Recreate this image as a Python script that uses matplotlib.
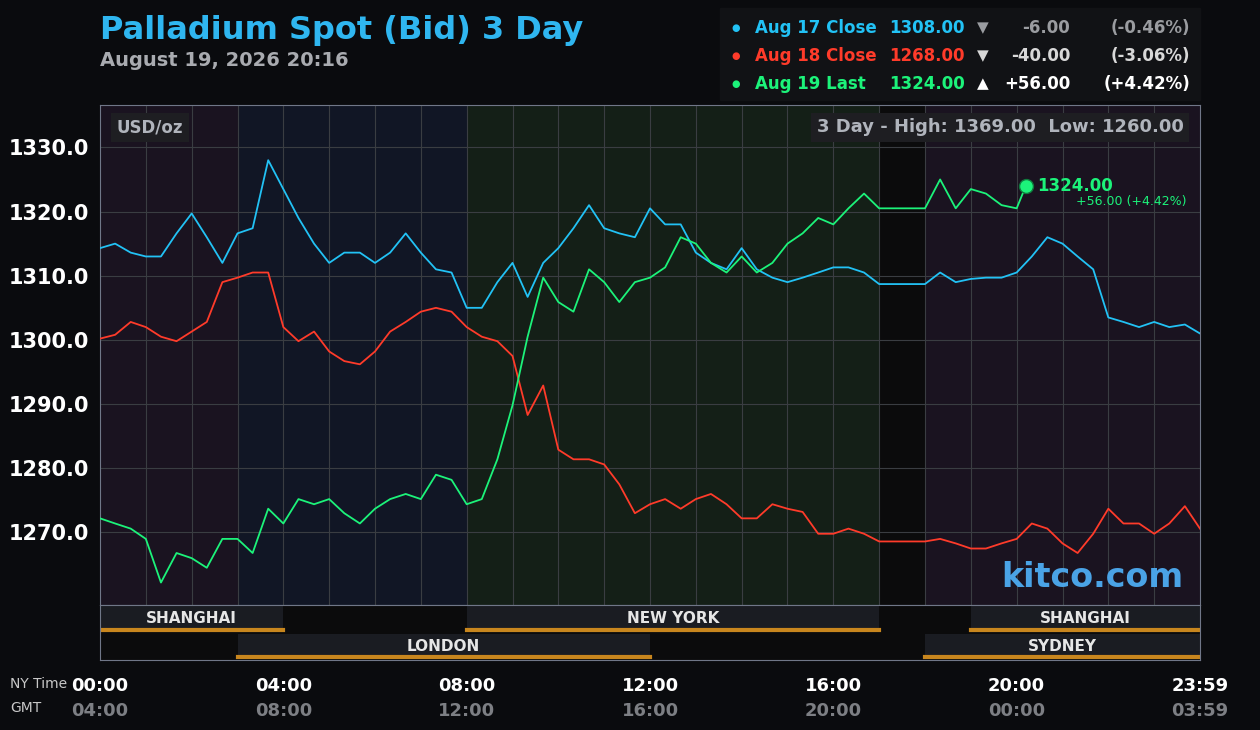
import matplotlib
matplotlib.use("Agg")
import matplotlib.pyplot as plt
import numpy as np

hours = [0,0.33,0.67,1,1.33,1.67,2,2.33,2.67,3,3.33,3.67,4,4.33,4.67,5,5.33,5.67,6,6.33,6.67,7,7.33,7.67,8,8.33,8.67,9,9.33,9.67,10,10.33,10.67,11,11.33,11.67,12,12.33,12.67,13,13.33,13.67,14,14.33,14.67,15,15.33,15.67,16,16.33,16.67,17,18,18.33,18.67,19,19.33,19.67,20,20.33,20.67,21,21.33,21.67,22,22.33,22.67,23,23.33,23.67,24]
aug17 = [1314.3,1315,1313.6,1313,1313,1316.6,1319.7,1316,1312,1316.6,1317.4,1328,1323.5,1319,1315,1312,1313.6,1313.6,1312,1313.6,1316.6,1313.6,1311,1310.5,1305,1305,1309,1312,1306.7,1312,1314.3,1317.4,1321,1317.4,1316.6,1316,1320.5,1318,1318,1313.6,1312,1311,1314.3,1311,1309.7,1309,1309.7,1310.5,1311.3,1311.3,1310.5,1308.7,1308.7,1310.5,1309,1309.5,1309.7,1309.7,1310.5,1313,1316,1315,1313,1311,1303.5,1302.8,1302,1302.8,1302,1302.4,1301]
aug18 = [1300.2,1300.8,1302.8,1302,1300.5,1299.8,1301.3,1302.8,1309,1309.7,1310.5,1310.5,1302,1299.8,1301.3,1298.2,1296.7,1296.2,1298.2,1301.3,1302.8,1304.4,1305,1304.4,1302,1300.5,1299.8,1297.5,1288.3,1292.9,1282.9,1281.4,1281.4,1280.6,1277.5,1273,1274.4,1275.2,1273.7,1275.2,1276,1274.4,1272.2,1272.2,1274.4,1273.7,1273.2,1269.8,1269.8,1270.6,1269.8,1268.6,1268.6,1269,1268.3,1267.5,1267.5,1268.3,1269,1271.4,1270.6,1268.3,1266.8,1269.8,1273.7,1271.4,1271.4,1269.8,1271.4,1274.1,1270.6]
hours19 = [0,0.33,0.67,1,1.33,1.67,2,2.33,2.67,3,3.33,3.67,4,4.33,4.67,5,5.33,5.67,6,6.33,6.67,7,7.33,7.67,8,8.33,8.67,9,9.33,9.67,10,10.33,10.67,11,11.33,11.67,12,12.33,12.67,13,13.33,13.67,14,14.33,14.67,15,15.33,15.67,16,16.33,16.67,17,18,18.33,18.67,19,19.33,19.67,20,20.2]
aug19 = [1272.2,1271.4,1270.6,1269,1262.2,1266.8,1266,1264.5,1269,1269,1266.8,1273.7,1271.4,1275.2,1274.4,1275.2,1273,1271.4,1273.7,1275.2,1276,1275.2,1279,1278.2,1274.4,1275.2,1281.4,1289.8,1300.5,1309.7,1305.9,1304.4,1311,1309,1305.9,1309,1309.7,1311.3,1316,1315,1312,1310.5,1313,1310.5,1312,1315,1316.6,1319,1318,1320.5,1322.8,1320.5,1320.5,1325,1320.5,1323.5,1322.8,1321,1320.5,1324]
yticks = [1270,1280,1290,1300,1310,1320,1330]
xlabels_ny = ["00:00","04:00","08:00","12:00","16:00","20:00","23:59"]
xlabels_gmt = ["04:00","08:00","12:00","16:00","20:00","00:00","03:59"]
xtick_pos = [0,4,8,12,16,20,24]

BLUE, RED, GREEN = "#22c2f5", "#ff3b2a", "#1cf37a"
fig = plt.figure(figsize=(12.6,7.3), dpi=100, facecolor="#0a0b0e")
ax = fig.add_axes([100/1260, 125/730, 1100/1260, 500/730])
ax.set_facecolor("#0b0b0c")
ax.set_xlim(0,24); ax.set_ylim(1258.7,1336.6)
for a,b,c in [(0,3,"#1a1320"),(3,8,"#111625"),(8,17,"#141f17"),(17,18,"#0b0b0c"),(18,24,"#1a1320")]:
    ax.axvspan(a,b,color=c,zorder=0,lw=0)
for x in np.arange(1,24):
    ax.axvline(x,color="#3a3d42",lw=0.8,zorder=1)
for y in yticks:
    ax.axhline(y,color="#3a3d42",lw=0.8,zorder=1)
ax.plot(hours,aug17,color=BLUE,lw=1.3,zorder=3)
ax.plot(hours,aug18,color=RED,lw=1.3,zorder=3)
ax.plot(hours19,aug19,color=GREEN,lw=1.3,zorder=4)
ax.plot([hours19[-1]],[aug19[-1]],'o',color=GREEN,ms=10,zorder=5,mec="#0f7a3d")
ax.text(20.45,1324,"1324.00",color=GREEN,fontsize=12,fontweight="bold",va="center",zorder=6)
ax.text(23.7,1321.6,"+56.00 (+4.42%)",color=GREEN,fontsize=9,ha="right",va="center",zorder=6)
ax.set_yticks(yticks); ax.set_yticklabels([f"{v:.1f}" for v in yticks])
ax.tick_params(axis="y",colors="white",labelsize=15,length=0,pad=8)
for l in ax.get_yticklabels(): l.set_fontweight("bold")
ax.set_xticks([])
for s in ax.spines.values(): s.set_color("#707788")
ax.text(0.015,0.955,"USD/oz",transform=ax.transAxes,color="#b0b4bc",fontsize=12,fontweight="bold",va="center",
        bbox=dict(fc="#1e1e22",ec="none",pad=4))
ax.text(0.985,0.955,"3 Day - High: 1369.00  Low: 1260.00",transform=ax.transAxes,color="#b0b4bc",fontsize=13,
        fontweight="bold",va="center",ha="right",bbox=dict(fc="#1e1e22",ec="none",pad=4))
ax.text(0.985,0.055,"kitco.com",transform=ax.transAxes,color="#4aa3e6",fontsize=24,fontweight="bold",ha="right",va="center")

sx = fig.add_axes([100/1260, 70/730, 1100/1260, 55/730])
sx.set_facecolor("#0b0b0c"); sx.set_xlim(0,24); sx.set_ylim(0,2)
sx.set_xticks([]); sx.set_yticks([])
for s in sx.spines.values(): s.set_color("#707788")
for a,b,name,row in [(0,4,"SHANGHAI",1),(8,17,"NEW YORK",1),(19,24,"SHANGHAI",1),(3,12,"LONDON",0),(18,24,"SYDNEY",0)]:
    sx.add_patch(plt.Rectangle((a,row+0.05),b-a,0.9,color="#1a1c22",lw=0))
    sx.plot([a,b],[row+0.1,row+0.1],color="#c8861e",lw=3)
    sx.text((a+b)/2,row+0.5,name,color="#e6e6e6",fontsize=11,fontweight="bold",ha="center",va="center")

for x,l1,l2 in zip(xtick_pos,xlabels_ny,xlabels_gmt):
    px = (100+x/24*1100)/1260
    fig.text(px,1-686/730,l1,color="white",fontsize=13,fontweight="bold",ha="center",va="center")
    fig.text(px,1-711/730,l2,color="#7d7f84",fontsize=13,fontweight="bold",ha="center",va="center")
fig.text(10/1260,1-684/730,"NY Time",color="#c8c8c8",fontsize=10,va="center")
fig.text(10/1260,1-708/730,"GMT",color="#c8c8c8",fontsize=10,va="center")

fig.text(100/1260,1-30/730,"Palladium Spot (Bid) 3 Day",color="#2fb6f0",fontsize=23,fontweight="bold",va="center")
fig.text(100/1260,1-60/730,"August 19, 2026 20:16",color="#a9abb0",fontsize=14,fontweight="bold",va="center")
fig.patches.append(plt.Rectangle((720/1260,1-100/730),480/1260,92/730,transform=fig.transFigure,color="#111215",zorder=0))
rows = [("Aug 17 Close","1308.00","\u25bc","-6.00","(-0.46%)",BLUE,"#9a9ca0"),
        ("Aug 18 Close","1268.00","\u25bc","-40.00","(-3.06%)",RED,"#d8d8d8"),
        ("Aug 19 Last","1324.00","\u25b2","+56.00","(+4.42%)",GREEN,"white")]
for i,(lab,val,arr,ch,pct,c,c2) in enumerate(rows):
    y = 1-(28+i*28)/730
    fig.text(731/1260,y,"\u25cf",color=c,fontsize=7,va="center")
    fig.text(755/1260,y,lab,color=c,fontsize=12,fontweight="bold",va="center")
    fig.text(965/1260,y,val,color=c,fontsize=12,fontweight="bold",va="center",ha="right")
    fig.text(983/1260,y,arr,color=c2,fontsize=11,va="center",ha="center")
    fig.text(1070/1260,y,ch,color=c2,fontsize=12,fontweight="bold",va="center",ha="right")
    fig.text(1190/1260,y,pct,color=c2,fontsize=12,fontweight="bold",va="center",ha="right")
fig.savefig("out.png",dpi=100,facecolor=fig.get_facecolor())
